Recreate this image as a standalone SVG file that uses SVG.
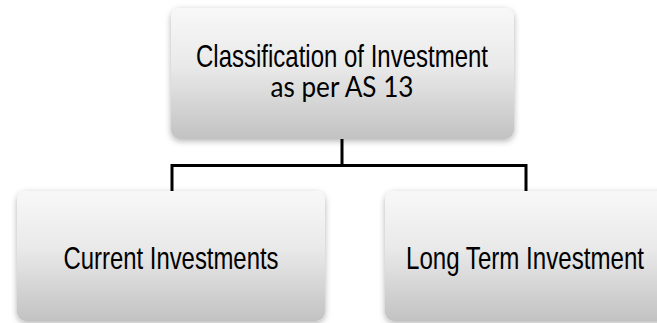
<svg xmlns="http://www.w3.org/2000/svg" width="657" height="323" viewBox="0 0 657 323">
<style>
.box{fill:url(#g);filter:url(#sh)}
.t1{font-family:"Liberation Sans Narrow","Liberation Sans",Arial,sans-serif;font-size:30.5px;fill:#000;text-anchor:middle}
.t2{font-family:Lato,"Open Sans",sans-serif;font-size:29px;fill:#000;text-anchor:middle}
.conn{fill:none;stroke:#000;stroke-width:3}
</style>
<defs>
<linearGradient id="g" x1="0" y1="0" x2="0" y2="1">
<stop offset="0" stop-color="#f8f8f8"/>
<stop offset="0.45" stop-color="#e9e9e9"/>
<stop offset="1" stop-color="#c2c2c2"/>
</linearGradient>
<filter id="sh" x="-10%" y="-10%" width="120%" height="130%">
<feDropShadow dx="0" dy="2" stdDeviation="3" flood-color="#000" flood-opacity="0.3"/>
</filter>
</defs>
<rect width="657" height="323" fill="#fff"/>
<g id="connectors">
<path class="conn" d="M342 139V165.5"/>
<path class="conn" d="M172 191V165.5H526V191"/>
</g>
<g id="root">
<rect class="box" x="171" y="8" width="343" height="131" rx="9"/>
<text class="t1" x="342" y="67" textLength="292" lengthAdjust="spacingAndGlyphs">Classification of Investment</text>
<text class="t2" x="342" y="97" textLength="143" lengthAdjust="spacingAndGlyphs">as per AS 13</text>
</g>
<g id="current">
<rect class="box" x="17" y="191" width="308" height="130" rx="9"/>
<text class="t1" x="171" y="269" textLength="215" lengthAdjust="spacingAndGlyphs">Current Investments</text>
</g>
<g id="longterm">
<rect class="box" x="385" y="191" width="290" height="130" rx="9"/>
<text class="t1" x="525" y="269" textLength="238" lengthAdjust="spacingAndGlyphs">Long Term Investment</text>
</g>
</svg>
